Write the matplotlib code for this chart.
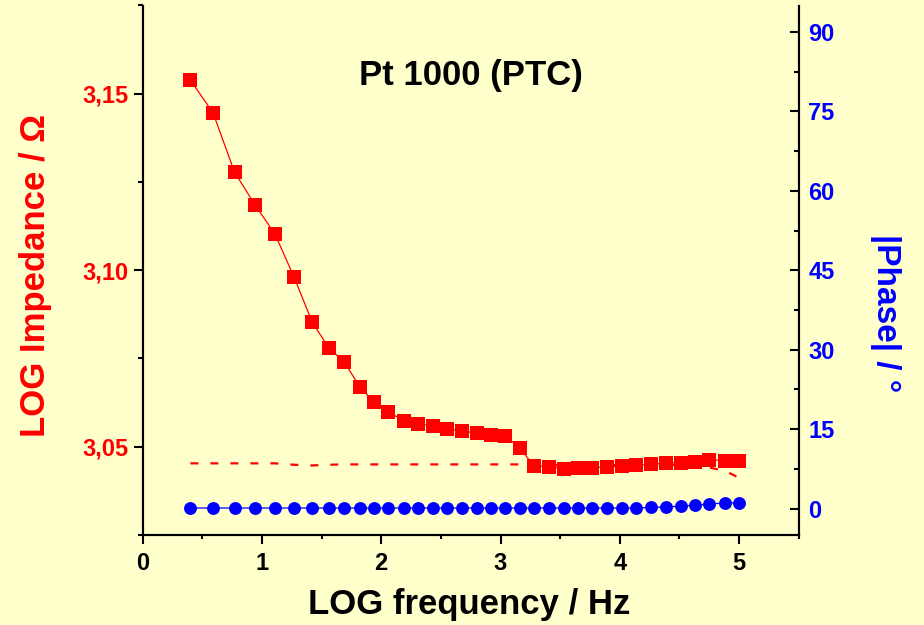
import matplotlib
matplotlib.use("Agg")
import matplotlib.pyplot as plt
from matplotlib.ticker import MultipleLocator, FuncFormatter

plt.rcParams['font.family'] = ['Liberation Sans', 'DejaVu Sans']
plt.rcParams['font.weight'] = 'bold'

BG = '#FFFFCC'

# measured sweep: log10(f / Hz)
log_freq = [0.40, 0.59, 0.77, 0.94, 1.11, 1.27, 1.42, 1.56, 1.69, 1.82, 1.94, 2.06,
            2.19, 2.31, 2.43, 2.55, 2.68, 2.80, 2.92, 3.04, 3.16, 3.28, 3.41, 3.53,
            3.65, 3.77, 3.89, 4.02, 4.14, 4.26, 4.39, 4.51, 4.63, 4.75, 4.88, 5.00]

# log10(|Z| / Ohm)
log_z = [3.1539, 3.1446, 3.1278, 3.1186, 3.1102, 3.0980, 3.0854, 3.0780, 3.0740,
         3.0670, 3.0626, 3.0598, 3.0574, 3.0564, 3.0560, 3.0550, 3.0545, 3.0538,
         3.0534, 3.0531, 3.0497, 3.0446, 3.0444, 3.0438, 3.0440, 3.0441, 3.0443,
         3.0445, 3.0447, 3.0451, 3.0454, 3.0455, 3.0457, 3.0463, 3.0461, 3.0461]

# second run (dashed)
log_z_ref = [3.0453, 3.0453, 3.0453, 3.0453, 3.0453, 3.0449, 3.0447, 3.0449, 3.0450,
             3.0450, 3.0450, 3.0450, 3.0450, 3.0450, 3.0450, 3.0450, 3.0450, 3.0450,
             3.0450, 3.0450, 3.0450, 3.0448, 3.0448, 3.0448, 3.0448, 3.0448, 3.0448,
             3.0448, 3.0448, 3.0448, 3.0448, 3.0448, 3.0448, 3.0441, 3.0432, 3.0412]

# |phase| in degrees
phase = [0.1, 0.1, 0.1, 0.1, 0.1, 0.1, 0.1, 0.1, 0.1, 0.1, 0.1, 0.1,
         0.1, 0.1, 0.1, 0.1, 0.1, 0.1, 0.1, 0.1, 0.1, 0.1, 0.1, 0.1,
         0.1, 0.1, 0.1, 0.1, 0.1, 0.2, 0.3, 0.45, 0.6, 0.85, 1.05, 1.1]

fig = plt.figure(figsize=(9.24, 6.25), dpi=100, facecolor=BG)
ax = fig.add_axes([0.1544, 0.144, 0.71, 0.8472])
ax.set_facecolor(BG)
ax2 = ax.twinx()

ax.plot(log_freq, log_z_ref, color='red', lw=1.6, dashes=(3.6, 5.4), zorder=2)
ax.plot(log_freq, log_z, color='red', lw=0.9, marker='s', markersize=10.2,
        markeredgewidth=0, zorder=3)
ax2.plot(log_freq, phase, color='blue', lw=0.9, marker='o', markersize=9.3,
         markeredgewidth=0)

ax.set_xlim(0, 5.5)
ax.set_ylim(3.025, 3.175)
ax2.set_ylim(-5, 95)

ax.xaxis.set_major_locator(MultipleLocator(1))
ax.xaxis.set_minor_locator(MultipleLocator(0.5))
ax.yaxis.set_major_locator(MultipleLocator(0.05))
ax.yaxis.set_minor_locator(MultipleLocator(0.025))
ax.yaxis.set_major_formatter(FuncFormatter(lambda v, p: ('%.2f' % v).replace('.', ',')))
ax2.yaxis.set_major_locator(MultipleLocator(15))
ax2.yaxis.set_minor_locator(MultipleLocator(7.5))

for a in (ax, ax2):
    a.spines['top'].set_visible(False)
    for s in ('left', 'right', 'bottom'):
        a.spines[s].set_linewidth(1.5)
        a.spines[s].set_color('black')

ax.tick_params(axis='x', which='major', direction='out', length=6.5, width=1.5,
               labelsize=17, pad=6, colors='black')
ax.tick_params(axis='x', which='minor', direction='out', length=3, width=1.5)
ax.tick_params(axis='y', which='major', direction='out', length=6.5, width=1.5,
               labelsize=17, pad=4, labelcolor='red')
ax.tick_params(axis='y', which='minor', direction='out', length=3.5, width=1.5)
ax2.tick_params(axis='y', which='major', direction='in', length=6.5, width=1.5,
                labelsize=17, pad=7, labelcolor='blue')
ax2.tick_params(axis='y', which='minor', direction='in', length=3.5, width=1.5)

ax.set_xlabel('LOG frequency / Hz', fontsize=25, fontweight='bold', va='center')
ax.xaxis.set_label_coords(0.497, -0.132)
ax.set_ylabel('LOG Impedance / Ω', fontsize=25, fontweight='bold', color='red',
              va='center')
ax.yaxis.set_label_coords(-0.163, 0.49)
ax2.set_ylabel('|Phase| / °', fontsize=24, fontweight='bold', color='blue',
               rotation=270, va='center')
ax2.yaxis.set_label_coords(1.133, 0.42)

ax.text(0.5, 0.868, 'Pt 1000 (PTC)', transform=ax.transAxes, ha='center', va='center',
        fontsize=25, fontweight='bold')

fig.savefig('out.png', dpi=100, facecolor=BG)
